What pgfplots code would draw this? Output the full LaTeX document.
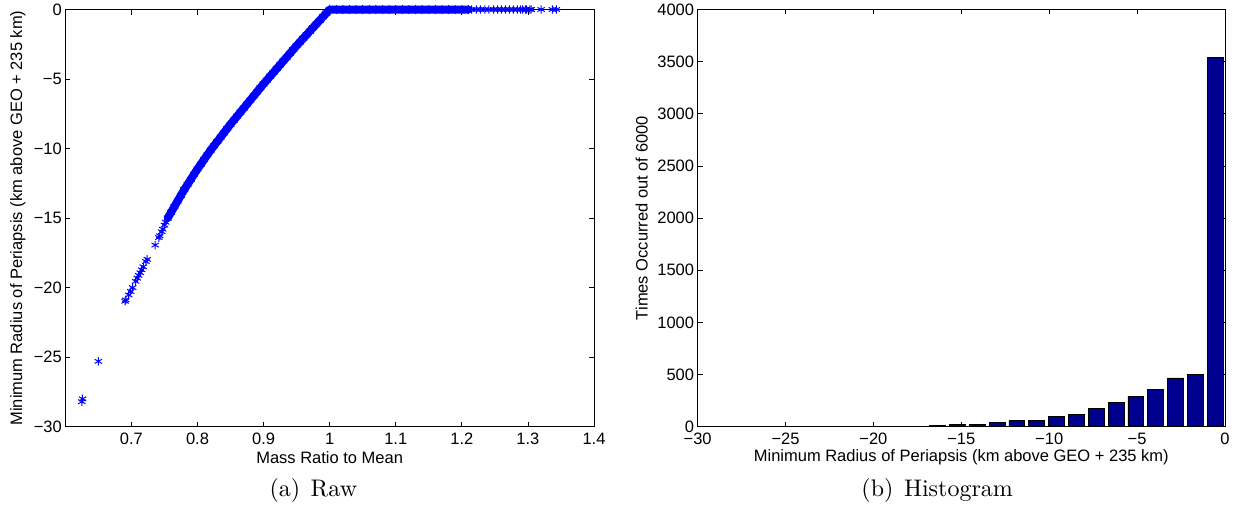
\documentclass[border=0pt]{standalone}
\usepackage{fontspec}
\newfontfamily\helv{Liberation Sans}
\usepackage{graphicx}
\usepackage{pgfplots}
\pgfplotsset{compat=1.18}
\definecolor{histblue}{RGB}{0,0,143}
\newcommand{\tickfont}{\helv\fontsize{16.5}{18}\selectfont}
\pgfplotsset{
  mlab/.style={
    scale only axis,
    anchor=south west,
    tick align=inside,
    major tick length=5pt,
    axis line style={line width=0.9pt, black},
    every tick/.style={line width=0.8pt, black},
    ticklabel style={font=\tickfont},
    xticklabel style={yshift=-3pt},
    label style={font=\tickfont},
    xlabel style={anchor=center},
    ylabel style={anchor=center},
  }
}
\begin{document}
\begin{tikzpicture}[x=1pt,y=1pt]
\path[use as bounding box] (0,0) rectangle (1238,515);

% ---------------- (a) Raw ----------------
\begin{axis}[mlab,
  at={(65.3pt,88.3pt)}, width=528.7pt, height=417.2pt,
  xmin=0.6, xmax=1.4, ymin=-30, ymax=0,
  xtick={0.7,0.8,0.9,1.0,1.1,1.2,1.3,1.4},
  xticklabels={0.7,0.8,0.9,1,1.1,1.2,1.3,1.4},
  ytick={-30,-25,-20,-15,-10,-5,0},
  yticklabels={−30,−25,−20,−15,−10,−5,0},
  xlabel={Mass Ratio to Mean},
  ylabel={Minimum Radius of Periapsis (km above GEO + 235 km)},
  xlabel style={at={(axis description cs:0.5,-0.0731)}},
  ylabel style={at={(axis description cs:-0.0897,0.5)}},
  clip=false,
]
% dense band of points
\addplot[color=blue, line width=8pt, line join=round, line cap=round,
  mark=asterisk, mark size=4.2pt, mark options={line width=1pt, solid}]
coordinates {
(0.755,-15.00)(0.760,-14.59)(0.765,-14.18)(0.770,-13.77)(0.775,-13.36)
(0.780,-12.95)(0.785,-12.58)(0.790,-12.21)(0.795,-11.84)(0.800,-11.47)
(0.805,-11.13)(0.810,-10.79)(0.815,-10.45)(0.820,-10.11)(0.825,-9.80)
(0.830,-9.49)(0.835,-9.18)(0.840,-8.87)(0.845,-8.56)(0.850,-8.25)
(0.855,-7.96)(0.860,-7.67)(0.865,-7.38)(0.870,-7.09)(0.875,-6.80)
(0.880,-6.51)(0.885,-6.22)(0.890,-5.93)(0.895,-5.64)(0.900,-5.35)
(0.905,-5.08)(0.910,-4.80)(0.915,-4.53)(0.920,-4.25)(0.925,-3.98)
(0.930,-3.70)(0.935,-3.43)(0.940,-3.15)(0.945,-2.88)(0.950,-2.60)
(0.955,-2.34)(0.960,-2.08)(0.965,-1.82)(0.970,-1.56)(0.975,-1.30)
(0.980,-1.04)(0.985,-0.78)(0.990,-0.52)(0.995,-0.26)(1.000,0)
(1.010,0)(1.020,0)(1.030,0)(1.040,0)(1.050,0)(1.060,0)(1.070,0)
(1.080,0)(1.090,0)(1.100,0)(1.110,0)(1.120,0)(1.130,0)(1.140,0)
(1.150,0)(1.160,0)(1.170,0)(1.180,0)(1.190,0)(1.200,0)(1.210,0)
};
% sparse points
\addplot[only marks, color=blue, mark=asterisk, mark size=4.2pt, mark options={line width=1pt}]
coordinates {
(0.7520,-15.30)(0.7500,-15.50)(0.7475,-15.80)(0.7460,-15.98)(0.7430,-16.28)
(0.7415,-16.40)(0.7360,-16.94)(0.7240,-17.97)(0.7220,-18.12)(0.7180,-18.50)
(0.7155,-18.72)(0.7135,-18.93)(0.7110,-19.12)(0.7090,-19.32)(0.7065,-19.55)
(0.7020,-20.00)(0.6990,-20.28)(0.6960,-20.53)(0.6915,-20.88)(0.6905,-20.98)
(0.6500,-25.30)(0.6260,-28.00)(0.6250,-28.20)
(1.215,0)(1.222,0)(1.228,0)(1.235,0)(1.241,0)(1.248,0)(1.254,0)(1.260,0)
(1.266,0)(1.272,0)(1.278,0)(1.284,0)(1.289,0)(1.292,0)(1.296,0)(1.298,0)
(1.303,0)(1.305,0)(1.320,0)(1.337,0)(1.343,0)
};
\end{axis}

% ---------------- (b) Histogram ----------------
\begin{axis}[mlab,
  at={(697.6pt,88.3pt)}, width=527.4pt, height=417.2pt,
  xmin=-30, xmax=0, ymin=0, ymax=4000,
  xtick={-30,-25,-20,-15,-10,-5,0},
  xticklabels={−30,−25,−20,−15,−10,−5,0},
  ytick={0,500,1000,1500,2000,2500,3000,3500,4000},
  yticklabels={0,500,1000,1500,2000,2500,3000,3500,4000},
  xlabel={Minimum Radius of Periapsis (km above GEO + 235 km)},
  ylabel={Times Occurred out of 6000},
  xlabel style={at={(axis description cs:0.5,-0.0732)}},
  ylabel style={at={(axis description cs:-0.106,0.5)}},
]
\addplot[ybar, bar width=15.9pt, bar shift=0pt, fill=histblue, draw=black, line width=0.6pt]
table {
x y
-0.564 3540
-1.692 505
-2.820 468
-3.948 360
-5.076 292
-6.204 235
-7.332 172
-8.460 121
-9.588 98
-10.716 64
-11.844 58
-12.972 45
-14.100 22
-15.228 19
-16.356 12
-17.484 3
-18.612 5
-19.740 4
-20.868 5
-21.996 0
-23.124 0
-24.252 0
-25.380 1
-26.508 0
-27.636 3
};
\end{axis}

\node[anchor=base, inner sep=0pt] at (313.3,19) {\scalebox{2.4}{\fontsize{10}{12}\selectfont (a)\hspace{4.4pt}Raw}};
\node[anchor=base, inner sep=0pt] at (937.2,19) {\scalebox{2.4}{\fontsize{10}{12}\selectfont (b)\hspace{4.4pt}Histogram}};
\end{tikzpicture}
\end{document}
